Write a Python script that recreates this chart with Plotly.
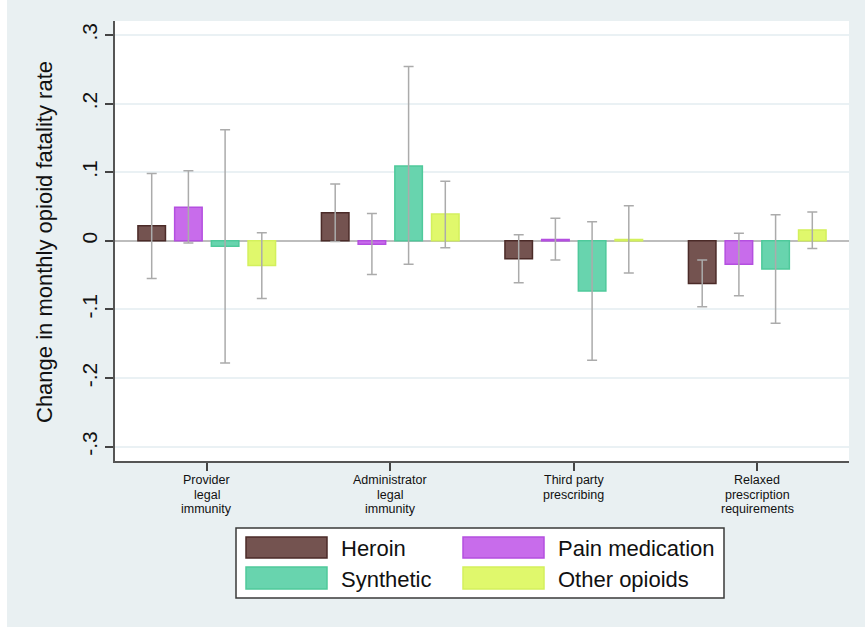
import plotly.graph_objects as go

# Policy categories (x axis); line breaks mark the wrapped label lines
categories = [
    "Provider\nlegal\nimmunity",
    "Administrator\nlegal\nimmunity",
    "Third party\nprescribing",
    "Relaxed\nprescription\nrequirements",
]

# Point estimates and confidence bounds for each opioid type
heroin = [0.022, 0.041, -0.026, -0.062]
heroin_lo = [-0.055, -0.001, -0.061, -0.096]
heroin_hi = [0.098, 0.083, 0.009, -0.028]

pain = [0.049, -0.005, 0.002, -0.034]
pain_lo = [-0.003, -0.049, -0.028, -0.080]
pain_hi = [0.102, 0.040, 0.033, 0.011]

synthetic = [-0.008, 0.109, -0.073, -0.041]
synthetic_lo = [-0.178, -0.034, -0.174, -0.120]
synthetic_hi = [0.162, 0.254, 0.028, 0.038]

other = [-0.036, 0.039, 0.002, 0.016]
other_lo = [-0.084, -0.010, -0.047, -0.011]
other_hi = [0.012, 0.087, 0.051, 0.042]

y_ticks = [-0.3, -0.2, -0.1, 0, 0.1, 0.2, 0.3]
y_ticktext = ["-.3", "-.2", "-.1", "0", ".1", ".2", ".3"]

series = [
    ("Heroin", heroin, heroin_lo, heroin_hi, "#745350", "#4b2b28"),
    ("Pain medication", pain, pain_lo, pain_hi, "#c86ceb", "#b44fe0"),
    ("Synthetic", synthetic, synthetic_lo, synthetic_hi, "#68d4ae", "#4fc99b"),
    ("Other opioids", other, other_lo, other_hi, "#e0f86c", "#d3f05c"),
]

FONT = "Liberation Sans, Arial, sans-serif"
W, H = 865, 627
L, R, T, B = 115, 16, 21, 166
PW, PH = W - L - R, H - T - B


def px(x):
    return (x - L) / PW


def py(y):
    return (H - B - y) / PH


xpos = list(range(1, len(categories) + 1))

fig = go.Figure()
for name, vals, lo, hi, fill, edge in series:
    fig.add_trace(go.Bar(
        x=xpos,
        y=vals,
        name=name,
        marker=dict(color=fill, line=dict(color=edge, width=1.5)),
        error_y=dict(
            type="data",
            symmetric=False,
            array=[h - v for h, v in zip(hi, vals)],
            arrayminus=[v - l for v, l in zip(vals, lo)],
            color="#ababab",
            thickness=1.5,
            width=5,
        ),
        showlegend=False,
    ))

shapes = [
    # thin white strip at the left edge of the page
    dict(type="rect", xref="paper", yref="paper",
         x0=px(0), x1=px(7), y0=py(H), y1=py(0),
         fillcolor="white", line=dict(width=0), layer="below"),
    # legend frame
    dict(type="rect", xref="paper", yref="paper",
         x0=px(236), x1=px(724), y0=py(598), y1=py(528),
         fillcolor="white", line=dict(color="#3a3a3a", width=1.5)),
]
annotations = []

legend_cols = [(246, 341), (463, 558)]
legend_rows = [(537, 558), (567, 589)]
for i, (name, _, _, _, fill, edge) in enumerate(series):
    sx, tx = legend_cols[i % 2]
    y0, y1 = legend_rows[i // 2]
    shapes.append(dict(type="rect", xref="paper", yref="paper",
                       x0=px(sx), x1=px(sx + 81), y0=py(y1), y1=py(y0),
                       fillcolor=fill, line=dict(color=edge, width=1.5)))
    annotations.append(dict(xref="paper", yref="paper", x=px(tx - 2), y=py((y0 + y1) / 2 + 1),
                            text=name, showarrow=False, xanchor="left", yanchor="middle",
                            font=dict(family=FONT, size=22, color="#111")))

# category labels, drawn line by line for tight line spacing
for xv, label in zip(xpos, categories):
    for j, line in enumerate(label.split("\n")):
        annotations.append(dict(xref="x", yref="paper", x=xv, y=py(480 + 14.5 * j),
                                text=line, showarrow=False, xanchor="center",
                                yanchor="middle", borderpad=0,
                                font=dict(family=FONT, size=12.5, color="#111")))

# y-axis title
annotations.append(dict(xref="paper", yref="paper", x=px(45), y=py(242),
                        text="Change in monthly opioid fatality rate", showarrow=False,
                        textangle=-90, xanchor="center", yanchor="middle",
                        font=dict(family=FONT, size=22, color="#111")))

fig.update_layout(
    width=W, height=H,
    margin=dict(l=L, r=R, t=T, b=B, pad=0),
    paper_bgcolor="#e9f0f2",
    plot_bgcolor="white",
    barmode="group",
    bargap=0.2,
    bargroupgap=0.25,
    shapes=shapes,
    annotations=annotations,
    font=dict(family=FONT, color="#111"),
)

fig.update_xaxes(
    range=[0.5, 4.5],
    tickmode="array", tickvals=xpos, ticktext=[""] * len(xpos),
    ticks="outside", ticklen=8, tickwidth=1.5, tickcolor="#444",
    showline=True, linecolor="#555", linewidth=2,
    showgrid=False, zeroline=False,
)

fig.update_yaxes(
    range=[-0.3208, 0.3204],
    tickmode="array", tickvals=y_ticks, ticktext=y_ticktext,
    tickangle=-90,
    ticks="outside", ticklen=8, tickwidth=1.5, tickcolor="#444",
    showline=True, linecolor="#555", linewidth=2,
    showgrid=True, gridcolor="#eaf1f4", gridwidth=2,
    zeroline=True, zerolinecolor="#bdbdbd", zerolinewidth=2,
    tickfont=dict(family=FONT, size=21, color="#111"),
)

fig.write_html("out.html")
